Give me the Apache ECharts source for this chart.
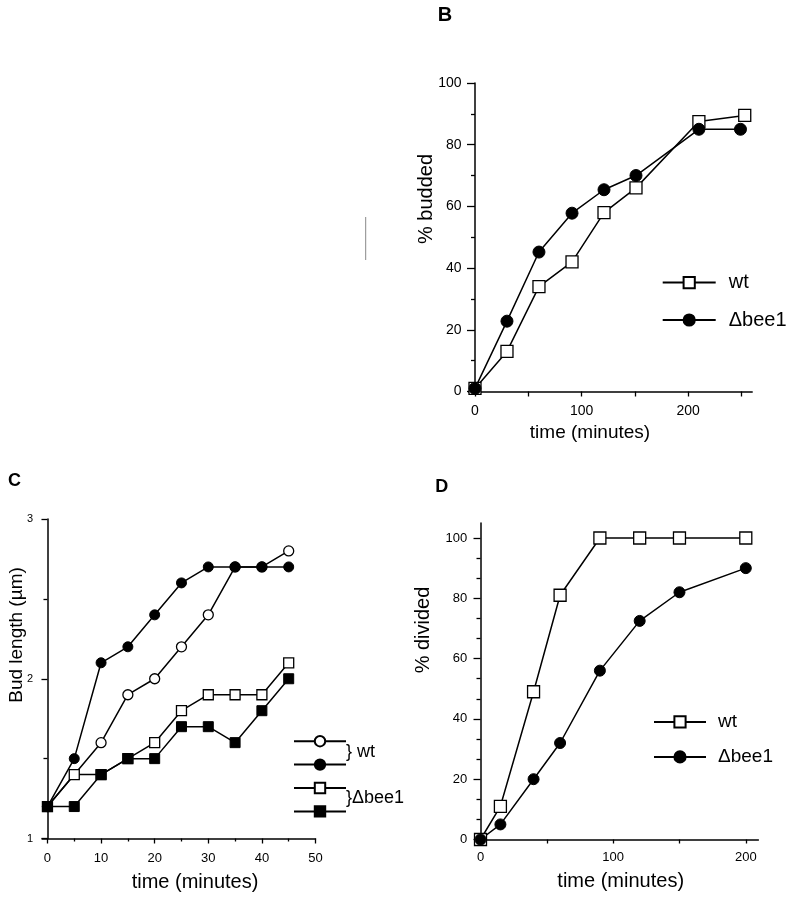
<!DOCTYPE html>
<html>
<head>
<meta charset="utf-8">
<script src="https://cdn.jsdelivr.net/npm/echarts@6/dist/echarts.min.js"></script>
<style>
html,body{margin:0;padding:0;background:#fff;}
#chart{width:788px;height:899px;}
</style>
</head>
<body>
<div id="chart"></div>
<script>
// ---- Panel B: % budded ----
const bTimeWt = [0, 30, 60, 91, 121, 151, 210, 253];
const bWt = [1, 13, 34, 42, 58, 66, 87.5, 89.5];
const bTimeBee1 = [0, 30, 60, 91, 121, 151, 210, 249];
const bBee1 = [1, 22.8, 45.2, 57.8, 65.4, 70, 85, 85];
const bXTicks = [0, 50, 100, 150, 200, 250];
const bXLabels = [0, 100, 200];

// ---- Panel C: bud length ----
const cTime = [0, 5, 10, 15, 20, 25, 30, 35, 40, 45];
const cWtOpen = [1.2, null, 1.6, 1.9, 2.0, 2.2, 2.4, 2.7, 2.7, 2.8];
const cWtFilled = [1.2, 1.5, 2.1, 2.2, 2.4, 2.6, 2.7, 2.7, 2.7, 2.7];
const cBeeOpen = [1.2, 1.4, 1.4, 1.5, 1.6, 1.8, 1.9, 1.9, 1.9, 2.1];
const cBeeFilled = [1.2, 1.2, 1.4, 1.5, 1.5, 1.7, 1.7, 1.6, 1.8, 2.0];
const cXTicks = [0, 10, 20, 30, 40, 50];
const cXMinor = [5, 15, 25, 35, 45];

// ---- Panel D: % divided ----
const dTime = [0, 15, 40, 60, 90, 120, 150, 200];
const dWt = [0, 11, 49, 81, 100, 100, 100, 100];
const dBee1 = [0, 5, 20, 32, 56, 72.5, 82, 90];
const dXTicks = [0, 50, 100, 150, 200];
const dXLabels = [0, 100, 200];
const dYTicks = [0, 20, 40, 60, 80, 100];
const dYMinor = [6.67, 13.33, 26.67, 33.33, 46.67, 53.33, 66.67, 73.33, 86.67, 93.33];

const FONT = "'Liberation Sans', Arial, Helvetica, sans-serif";
const BLACK = '#000';
const axLine = {lineStyle: {color: BLACK, width: 1.5}};
const tickStyle = {color: BLACK, width: 1.3};

function pairs(xs, ys) { return xs.map((x, i) => [x, ys[i]]); }

const openStyle = {color: '#fff', borderColor: BLACK, borderWidth: 1.3};
const fillStyle = {color: BLACK, borderColor: BLACK, borderWidth: 1};

function lineSeries(name, xi, yi, data, symbol, size, open) {
  return {
    name: name, type: 'line', xAxisIndex: xi, yAxisIndex: yi,
    data: data, symbol: symbol, symbolSize: size, showSymbol: true,
    connectNulls: true, color: BLACK,
    lineStyle: {color: BLACK, width: 1.5},
    itemStyle: open ? openStyle : fillStyle,
    emphasis: {disabled: true}, animation: false
  };
}

const chart = echarts.init(document.getElementById('chart'), null, {renderer: 'canvas'});

const option = {
  backgroundColor: '#fff',
  animation: false,
  textStyle: {fontFamily: FONT},
  grid: [
    {left: 468.6, top: 83, width: 283.6, height: 308.5},
    {left: 42.1, top: 519, width: 273.4, height: 319.5},
    {left: 475.2, top: 522.9, width: 283.2, height: 316.6}
  ],
  xAxis: [
    {gridIndex: 0, type: 'value', min: -6, max: 260, axisLine: axLine,
     axisTick: {customValues: bXTicks, length: 5, lineStyle: tickStyle},
     axisLabel: {customValues: bXLabels, fontSize: 14, color: BLACK, margin: 13, fontFamily: FONT},
     splitLine: {show: false}},
    {gridIndex: 1, type: 'value', min: -1, max: 50, axisLine: axLine,
     axisTick: {customValues: cXTicks, length: 5, lineStyle: tickStyle},
     axisLabel: {customValues: cXTicks, fontSize: 13, color: BLACK, margin: 13, fontFamily: FONT},
     splitLine: {show: false}},
    {gridIndex: 1, type: 'value', min: -1, max: 50, position: 'bottom',
     axisLine: {show: false},
     axisTick: {customValues: cXMinor, length: 3, lineStyle: tickStyle},
     axisLabel: {show: false}, splitLine: {show: false}},
    {gridIndex: 2, type: 'value', min: -4, max: 209.5, axisLine: axLine,
     axisTick: {customValues: dXTicks, length: 4, lineStyle: tickStyle},
     axisLabel: {customValues: dXLabels, fontSize: 13, color: BLACK, margin: 11, fontFamily: FONT},
     splitLine: {show: false}}
  ],
  yAxis: [
    {gridIndex: 0, type: 'value', min: 0, max: 100, interval: 20,
     axisLine: {show: true, onZero: true, onZeroAxisIndex: 0, lineStyle: {color: BLACK, width: 1.5}},
     axisTick: {show: true, length: 8, lineStyle: tickStyle},
     minorTick: {show: true, splitNumber: 2, length: 4, lineStyle: tickStyle},
     axisLabel: {fontSize: 14, color: BLACK, margin: 7, fontFamily: FONT},
     splitLine: {show: false}},
    {gridIndex: 1, type: 'value', min: 1, max: 3, interval: 1,
     axisLine: {show: true, onZero: true, onZeroAxisIndex: 1, lineStyle: {color: BLACK, width: 1.5}},
     axisTick: {show: true, length: 6, lineStyle: tickStyle},
     minorTick: {show: true, splitNumber: 2, length: 4, lineStyle: tickStyle},
     axisLabel: {fontSize: 11, color: BLACK, margin: 9, fontFamily: FONT},
     splitLine: {show: false}},
    {gridIndex: 2, type: 'value', min: 0, max: 105,
     axisLine: {show: true, onZero: true, onZeroAxisIndex: 3, lineStyle: {color: BLACK, width: 1.5}},
     axisTick: {show: true, customValues: dYTicks, length: 7, lineStyle: tickStyle},
     axisLabel: {customValues: dYTicks, fontSize: 13, color: BLACK, margin: 8, fontFamily: FONT},
     splitLine: {show: false}},
    {gridIndex: 2, type: 'value', min: 0, max: 105, position: 'left',
     axisLine: {show: false, onZero: true, onZeroAxisIndex: 3},
     axisTick: {show: true, customValues: dYMinor, length: 4, lineStyle: tickStyle},
     axisLabel: {show: false}, splitLine: {show: false}}
  ],
  legend: [
    {data: ['wt', 'Δbee1'], orient: 'vertical', left: 661.7, top: 272.6, padding: 0,
     itemWidth: 53, itemHeight: 14, itemGap: 17.4, selectedMode: false,
     textStyle: {fontSize: 20, color: BLACK, fontFamily: FONT, lineHeight: 14, padding: [0, 0, 0, 8]}},
    {data: ['wt (○)', 'wt (●)', 'Δbee1 (□)', 'Δbee1 (■)'], orient: 'vertical', left: 293, top: 735, padding: 0,
     itemWidth: 52, itemHeight: 13, itemGap: 11, selectedMode: false,
     formatter: function () { return ''; },
     textStyle: {fontSize: 12, lineHeight: 13}},
    {data: ['wt', 'Δbee1'], orient: 'vertical', left: 653, top: 712.4, padding: 0,
     itemWidth: 52, itemHeight: 14, itemGap: 16, selectedMode: false,
     textStyle: {fontSize: 19, color: BLACK, fontFamily: FONT, lineHeight: 14, padding: [0, 0, 0, 7]}}
  ],
  series: [
    lineSeries('wt', 0, 0, pairs(bTimeWt, bWt), 'rect', 12, true),
    lineSeries('Δbee1', 0, 0, pairs(bTimeBee1, bBee1), 'circle', 12, false),
    lineSeries('wt (○)', 1, 1, pairs(cTime, cWtOpen), 'circle', 10, true),
    lineSeries('wt (●)', 1, 1, pairs(cTime, cWtFilled), 'circle', 10, false),
    lineSeries('Δbee1 (□)', 1, 1, pairs(cTime, cBeeOpen), 'rect', 10, true),
    lineSeries('Δbee1 (■)', 1, 1, pairs(cTime, cBeeFilled), 'rect', 10, false),
    lineSeries('wt', 3, 2, pairs(dTime, dWt), 'rect', 12, true),
    lineSeries('Δbee1', 3, 2, pairs(dTime, dBee1), 'circle', 11, false)
  ],
  graphic: [
    {type: 'text', x: 445, y: 15, style: {text: 'B', font: 'bold 20px ' + FONT, fill: BLACK, textAlign: 'center', textVerticalAlign: 'middle'}},
    {type: 'text', x: 14.5, y: 481.5, style: {text: 'C', font: 'bold 18px ' + FONT, fill: BLACK, textAlign: 'center', textVerticalAlign: 'middle'}},
    {type: 'text', x: 441.7, y: 487.5, style: {text: 'D', font: 'bold 18px ' + FONT, fill: BLACK, textAlign: 'center', textVerticalAlign: 'middle'}},
    {type: 'text', x: 590, y: 433, style: {text: 'time (minutes)', font: '19px ' + FONT, fill: BLACK, textAlign: 'center', textVerticalAlign: 'middle'}},
    {type: 'text', x: 195, y: 882.7, style: {text: 'time (minutes)', font: '20px ' + FONT, fill: BLACK, textAlign: 'center', textVerticalAlign: 'middle'}},
    {type: 'text', x: 620.7, y: 881.7, style: {text: 'time (minutes)', font: '20px ' + FONT, fill: BLACK, textAlign: 'center', textVerticalAlign: 'middle'}},
    {type: 'text', x: 426.7, y: 199, rotation: Math.PI / 2, style: {text: '% budded', font: '20px ' + FONT, fill: BLACK, textAlign: 'center', textVerticalAlign: 'middle'}},
    {type: 'text', x: 16.7, y: 635, rotation: Math.PI / 2, style: {text: 'Bud length (µm)', font: '19px ' + FONT, fill: BLACK, textAlign: 'center', textVerticalAlign: 'middle'}},
    {type: 'text', x: 423.3, y: 630, rotation: Math.PI / 2, style: {text: '% divided', font: '20px ' + FONT, fill: BLACK, textAlign: 'center', textVerticalAlign: 'middle'}},
    {type: 'text', x: 346, y: 752, style: {text: '} wt', font: '18px ' + FONT, fill: BLACK, textAlign: 'left', textVerticalAlign: 'middle'}},
    {type: 'text', x: 346, y: 798, style: {text: '}Δbee1', font: '18px ' + FONT, fill: BLACK, textAlign: 'left', textVerticalAlign: 'middle'}},
    {type: 'line', shape: {x1: 365.7, y1: 217, x2: 365.7, y2: 260}, style: {stroke: '#888', lineWidth: 1}}
  ]
};
chart.setOption(option);
</script>
</body>
</html>
